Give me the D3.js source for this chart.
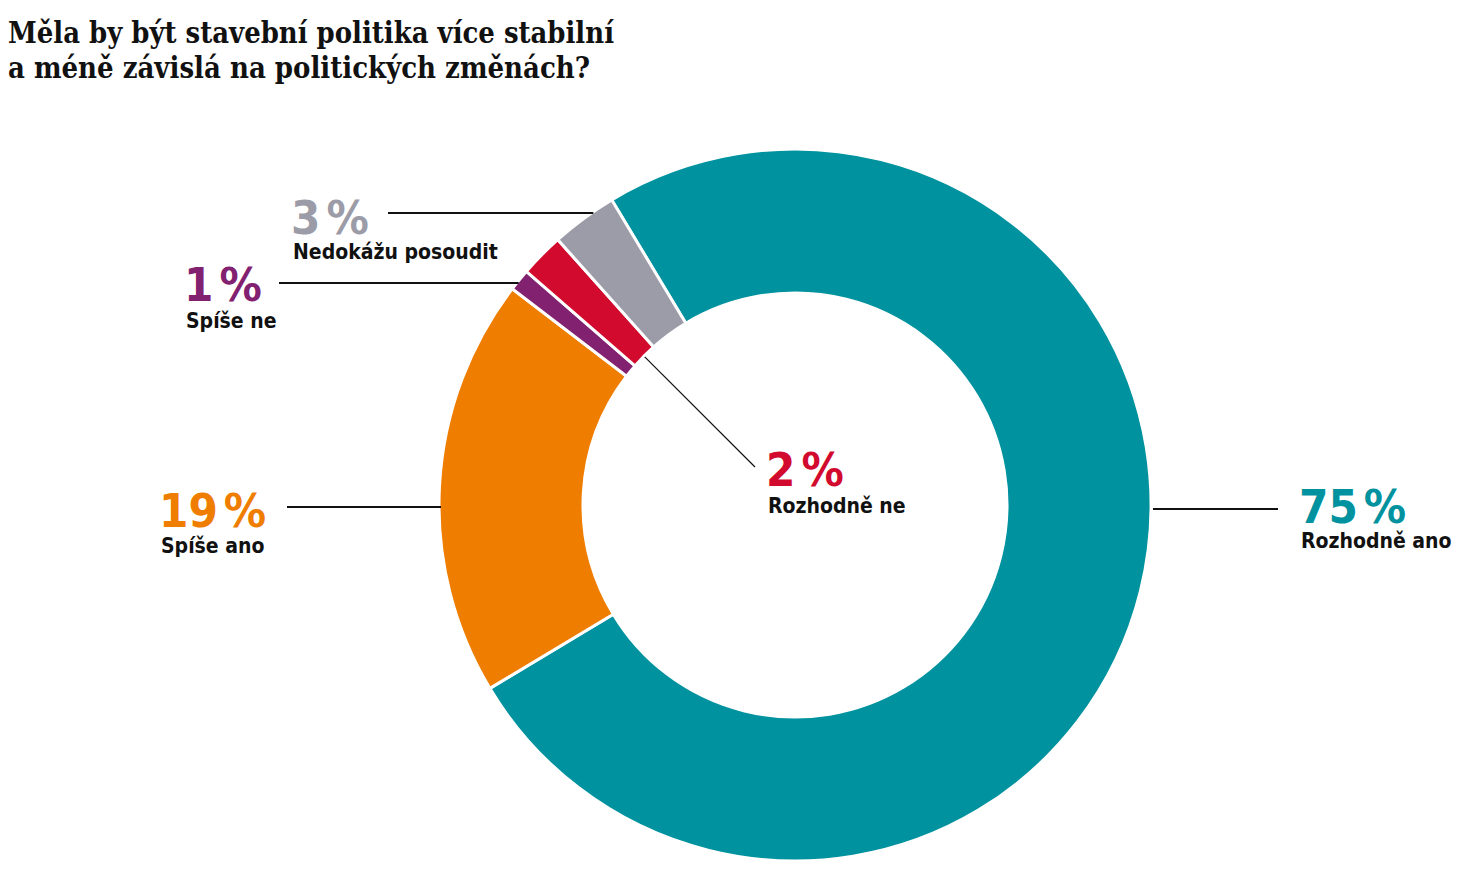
<!DOCTYPE html>
<html>
<head>
<meta charset="utf-8">
<script src="https://cdn.jsdelivr.net/npm/d3@7"></script>
<style>
  body { margin: 0; background: #fff; }
  svg { display: block; }
</style>
</head>
<body>
<svg id="chart" width="1476" height="873"></svg>
<script>
// survey answers, in drawing order (clockwise from the teal slice)
var categories = ["Rozhodně ano", "Spíše ano", "Spíše ne", "Rozhodně ne", "Nedokážu posoudit"];
var values = [75, 19, 1, 2, 3];
var colors = ["#00929e", "#ef7d00", "#822170", "#d20a2e", "#9b9ca7"];
var titleLines = ["Měla by být stavební politika více stabilní", "a méně závislá na politických změnách?"];

var svg = d3.select("#chart");

var cx = 795, cy = 505;
var outerR = 356, innerR = 212;

// title
svg.selectAll("text.title")
    .data(titleLines)
    .enter()
    .append("text")
    .attr("class", "title")
    .attr("x", 8)
    .attr("y", function(d, i) { return 43 + i * 35; })
    .attr("textLength", function(d, i) { return i == 0 ? 606 : 582; })
    .attr("lengthAdjust", "spacingAndGlyphs")
    .style("font-family", "'DejaVu Serif Condensed', 'DejaVu Serif', serif")
    .style("font-weight", "bold")
    .style("font-size", "29px")
    .style("fill", "#111")
    .text(function(d) { return d; });

var startA = -31 * Math.PI / 180;

var pie = d3.pie()
    .sort(null)
    .startAngle(startA)
    .endAngle(startA + 2 * Math.PI)
    .value(function(d) { return d; });

var arc = d3.arc()
    .innerRadius(innerR)
    .outerRadius(outerR);

var arcs = pie(values);

var g = svg.append("g").attr("transform", "translate(" + cx + "," + cy + ")");

g.selectAll("path")
    .data(arcs)
    .enter()
    .append("path")
    .attr("d", arc)
    .style("fill", function(d, i) { return colors[i]; })
    .style("stroke", "#fff")
    .style("stroke-width", 3);

// label placement (text anchor + leader line y)
var labelPos = {
    "Rozhodně ano": { x: 1299, y: 523, gap: 25, lineY: 509, lineX: 1278, side: "right" },
    "Spíše ano": { x: 159, y: 527, gap: 26, lineY: 507, lineX: 287, side: "left" },
    "Spíše ne": { x: 184, y: 301, gap: 27, lineY: 283, lineX: 279, side: "left" },
    "Rozhodně ne": { x: 766, y: 486, gap: 27, inner: true },
    "Nedokážu posoudit": { x: 291, y: 234, gap: 25, lineY: 213, lineX: 388, side: "left" }
};

arcs.forEach(function(a, i) {
    var p = labelPos[categories[i]];
    if (p.inner) {
        // thin diagonal leader from the inner edge of the slice
        var mid = (a.startAngle + a.endAngle) / 2;
        var r0 = innerR - 1;
        svg.append("line")
            .attr("x1", cx + Math.sin(mid) * r0)
            .attr("y1", cy - Math.cos(mid) * r0)
            .attr("x2", p.x - 11)
            .attr("y2", p.y - 19)
            .style("stroke", "#111")
            .style("stroke-width", 1.2);
    } else {
        var dy = p.lineY - cy;
        var dx = Math.sqrt(outerR * outerR - dy * dy);
        var edgeX = p.side == "left" ? cx - dx + 2 : cx + dx + 2;
        svg.append("line")
            .attr("x1", p.lineX)
            .attr("y1", p.lineY)
            .attr("x2", edgeX)
            .attr("y2", p.lineY)
            .style("stroke", "#111")
            .style("stroke-width", 2);
    }

    var t = svg.append("text")
        .attr("x", p.x)
        .attr("y", p.y)
        .style("font-family", "'DejaVu Sans Condensed', 'DejaVu Sans', sans-serif")
        .style("font-weight", "bold")
        .style("font-size", "47px")
        .style("fill", colors[i]);
    t.append("tspan").text(values[i]);
    t.append("tspan").attr("dx", 6).text("%");

    svg.append("text")
        .attr("x", p.x + 2)
        .attr("y", p.y + p.gap)
        .style("font-family", "'DejaVu Sans Condensed', 'DejaVu Sans', sans-serif")
        .style("font-weight", "bold")
        .style("font-size", "21px")
        .style("fill", "#111")
        .text(categories[i]);
});
</script>
</body>
</html>
